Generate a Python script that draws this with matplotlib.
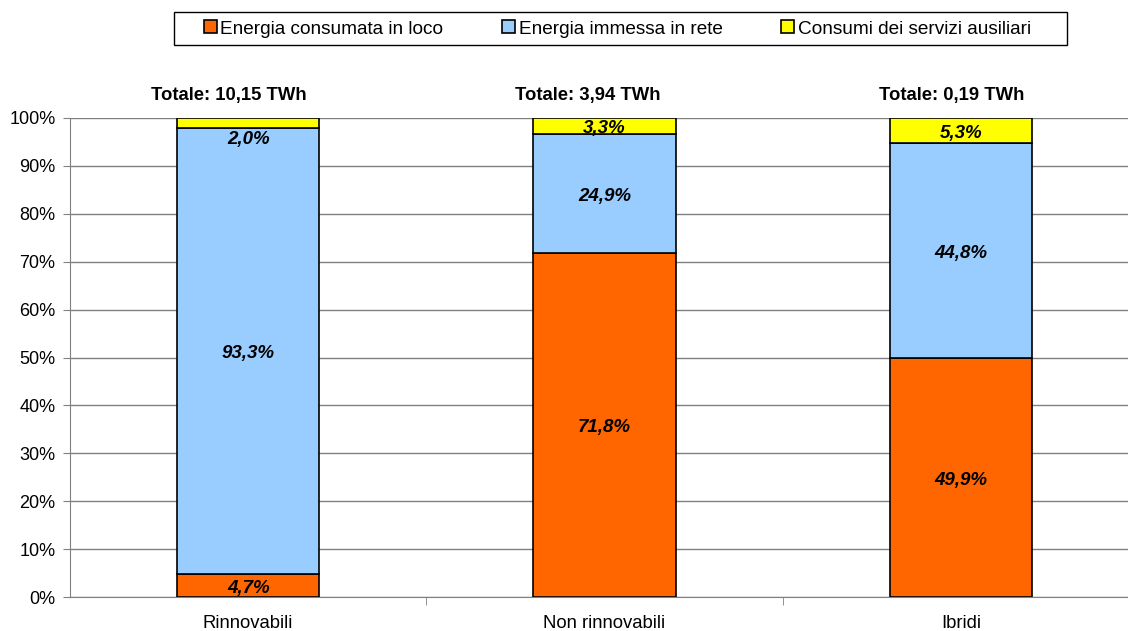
import matplotlib.pyplot as plt
from matplotlib.patches import Rectangle
import numpy as np

plt.rcParams['font.family'] = ['Liberation Sans', 'DejaVu Sans']

# Dati
categorie = ['Rinnovabili', 'Non rinnovabili', 'Ibridi']
consumata = [4.7, 71.8, 49.9]
immessa = [93.3, 24.9, 44.8]
ausiliari = [2.0, 3.3, 5.3]
totali = ['Totale: 10,15 TWh', 'Totale: 3,94 TWh', 'Totale: 0,19 TWh']

serie_nomi = ['Energia consumata in loco', 'Energia immessa in rete', 'Consumi dei servizi ausiliari']
colori = ['#FF6600', '#99CCFF', '#FFFF00']

fig = plt.figure(figsize=(11.28, 6.31), dpi=100)
ax = fig.add_axes([70 / 1128, 1 - 597 / 631, (1139 - 70) / 1128, (597 - 118) / 631])

x = np.arange(len(categorie))
w = 0.4
ax.bar(x, consumata, w, color=colori[0], edgecolor='black', linewidth=1.2, label=serie_nomi[0], zorder=3)
ax.bar(x, immessa, w, bottom=consumata, color=colori[1], edgecolor='black', linewidth=1.2, label=serie_nomi[1], zorder=3)
base3 = np.array(consumata) + np.array(immessa)
ax.bar(x, ausiliari, w, bottom=base3, color=colori[2], edgecolor='black', linewidth=1.2, label=serie_nomi[2], zorder=3)

def fmt(v):
    return f'{v:.1f}%'.replace('.', ',')

def etichetta(xi, yi, s):
    ax.annotate(s, (xi, yi), xytext=(0, -2), textcoords='offset points', ha='center', va='center',
                fontsize=13.5, fontweight='bold', fontstyle='italic', zorder=4)

# spostamento orizzontale delle caselle "Totale" (come nell'originale)
sposta_tot = [-14, -12, -6.5]

for i in range(len(categorie)):
    etichetta(x[i], consumata[i] / 2, fmt(consumata[i]))
    etichetta(x[i], consumata[i] + immessa[i] / 2, fmt(immessa[i]))
    yl = base3[i] + ausiliari[i] / 2
    if ausiliari[i] < 3:
        yl = base3[i] - 2.0  # etichetta spostata sotto la banda sottile
    etichetta(x[i], yl, fmt(ausiliari[i]))
    ax.annotate(totali[i], (x[i], 104.6), xytext=(sposta_tot[i], 0), textcoords='offset points',
                ha='center', va='center', fontsize=13.3, fontweight='bold', annotation_clip=False)

ax.set_xlim(-0.5, 2.5)
ax.set_ylim(0, 100)
ax.set_yticks(np.arange(0, 101, 10))
ax.set_yticklabels([f'{v}%' for v in range(0, 101, 10)], fontsize=13)
ax.yaxis.grid(True, color='#808080', linewidth=1, zorder=0)
ax.tick_params(axis='y', length=5, color='#808080', pad=5.5)

ax.set_xticks(x)
ax.set_xticklabels(categorie, fontsize=13.3)
ax.tick_params(axis='x', length=0, pad=13)
ax.set_xticks([0.5, 1.5], minor=True)
ax.tick_params(axis='x', which='minor', length=6, color='#808080', direction='out')

for s in ['top', 'right']:
    ax.spines[s].set_visible(False)
ax.spines['left'].set_color('#808080')
ax.spines['bottom'].set_color('#808080')

leg = fig.legend(loc='center', bbox_to_anchor=((174 + 1067 - 6) / 2 / 1128, 1 - 29 / 631),
                 ncol=3, fontsize=13.7, frameon=False,
                 handlelength=0.65, handleheight=0.65, handletextpad=0.2, columnspacing=3.1,
                 borderpad=0.3, borderaxespad=0)
# cornice della legenda
fig.patches.append(Rectangle((174 / 1128, 1 - 45 / 631), (1067 - 174) / 1128, 33 / 631,
                             transform=fig.transFigure, fill=False, edgecolor='black', linewidth=1))

fig.savefig('out.png', dpi=100)
